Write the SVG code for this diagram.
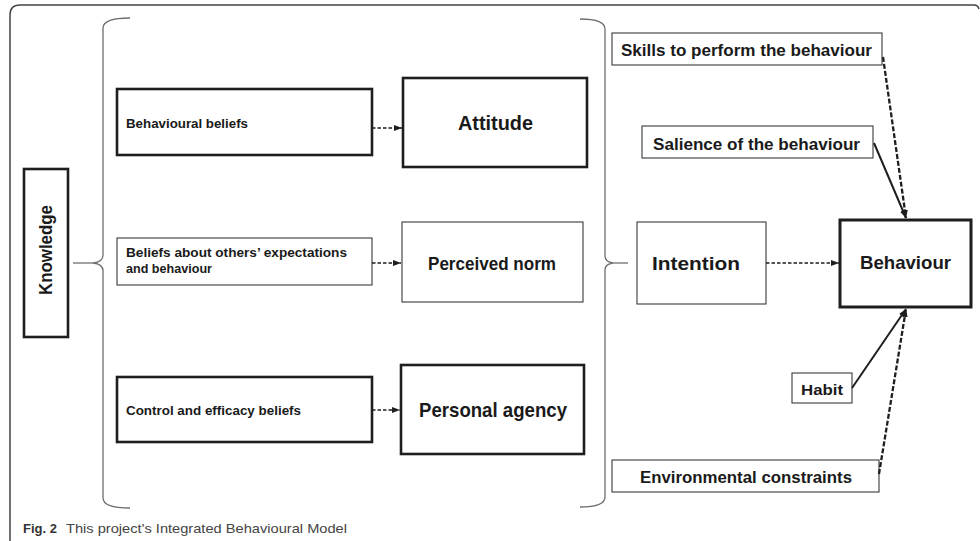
<svg xmlns="http://www.w3.org/2000/svg" width="980" height="541" viewBox="0 0 980 541">
<style>
text{font-family:"Liberation Sans",Arial,sans-serif;font-weight:bold;fill:#1a1a1a}
.thick{fill:#fff;stroke:#1e1e1e;stroke-width:2.6}
.thin{fill:#fff;stroke:#3a3a3a;stroke-width:1.1}
.brace{fill:none;stroke:#6e6e6e;stroke-width:1.3}
.dash{fill:none;stroke:#1e1e1e;stroke-width:1.6;stroke-dasharray:3.5 2}
.dash2{fill:none;stroke:#1e1e1e;stroke-width:2.3;stroke-dasharray:5 2}
.solid{fill:none;stroke:#1e1e1e;stroke-width:2}
.mid{text-anchor:middle}
</style>
<defs>
<marker id="ah" viewBox="0 0 8 6" refX="8" refY="3" markerWidth="8" markerHeight="6" markerUnits="userSpaceOnUse" orient="auto">
<path d="M0,0 L8,3 L0,6 Z" fill="#1e1e1e"/>
</marker>
</defs>
<rect width="980" height="541" fill="#fff"/>
<path d="M10,541 V15 Q10,5 20,5 H974 Q978,5 979,9" fill="none" stroke="#444" stroke-width="1.5"/>

<g id="braces">
<path class="brace" d="M130,18 Q103,18 103,28 V255 Q103,262 93,263 Q103,264 103,271 V498 Q103,508 130,508"/>
<line class="brace" x1="73" y1="263" x2="93" y2="263"/>
<path class="brace" d="M580,19 Q605,19 605,29 V256 Q605,262 613,263 Q605,264 605,270 V497 Q605,507 580,507"/>
<line class="brace" x1="613" y1="263" x2="628" y2="263"/>
</g>

<g id="knowledge">
<rect class="thick" x="24" y="169" width="44" height="168"/>
<text class="mid" transform="translate(52,250) rotate(-90)" font-size="18" textLength="90" lengthAdjust="spacingAndGlyphs">Knowledge</text>
</g>

<g id="behavioural-beliefs">
<rect class="thick" x="117" y="89" width="255" height="66"/>
<text x="126" y="128" font-size="13" textLength="122" lengthAdjust="spacingAndGlyphs">Behavioural beliefs</text>
</g>
<g id="beliefs-others">
<rect class="thin" x="117" y="238" width="255" height="47"/>
<text x="126" y="257" font-size="13" textLength="221" lengthAdjust="spacingAndGlyphs">Beliefs about others’ expectations</text>
<text x="126" y="273" font-size="13" textLength="86" lengthAdjust="spacingAndGlyphs">and behaviour</text>
</g>
<g id="control-beliefs">
<rect class="thick" x="117" y="377" width="255" height="65"/>
<text x="126" y="415" font-size="13" textLength="175" lengthAdjust="spacingAndGlyphs">Control and efficacy beliefs</text>
</g>

<g id="attitude">
<rect class="thick" x="403" y="78" width="184" height="89"/>
<text class="mid" x="495.5" y="130" font-size="20" textLength="75" lengthAdjust="spacingAndGlyphs">Attitude</text>
</g>
<g id="perceived-norm">
<rect class="thin" x="402" y="222" width="181" height="80"/>
<text class="mid" x="492" y="270" font-size="19" textLength="128" lengthAdjust="spacingAndGlyphs">Perceived norm</text>
</g>
<g id="personal-agency">
<rect class="thick" x="401" y="365" width="183" height="89"/>
<text class="mid" x="493" y="417" font-size="21" textLength="148" lengthAdjust="spacingAndGlyphs">Personal agency</text>
</g>

<g id="intention">
<rect class="thin" x="637" y="222" width="129" height="82"/>
<text class="mid" x="696" y="270" font-size="19" textLength="88" lengthAdjust="spacingAndGlyphs">Intention</text>
</g>
<g id="behaviour">
<rect x="840" y="220" width="131" height="87" fill="#fff" stroke="#1e1e1e" stroke-width="3"/>
<text class="mid" x="905.5" y="269" font-size="19" textLength="91" lengthAdjust="spacingAndGlyphs">Behaviour</text>
</g>

<g id="skills">
<rect class="thin" x="612" y="33" width="270" height="32"/>
<text x="621" y="56" font-size="16" textLength="251" lengthAdjust="spacingAndGlyphs">Skills to perform the behaviour</text>
</g>
<g id="salience">
<rect class="thin" x="642" y="126" width="231" height="32"/>
<text x="653" y="150" font-size="16" textLength="207" lengthAdjust="spacingAndGlyphs">Salience of the behaviour</text>
</g>
<g id="habit">
<rect class="thin" x="792" y="373" width="60" height="30"/>
<text x="801" y="395" font-size="15" textLength="42" lengthAdjust="spacingAndGlyphs">Habit</text>
</g>
<g id="environmental">
<rect class="thin" x="612" y="460" width="267" height="32"/>
<text x="640" y="483" font-size="16" textLength="212" lengthAdjust="spacingAndGlyphs">Environmental constraints</text>
</g>

<g id="connectors">
<line class="dash" x1="372" y1="128" x2="402" y2="128" marker-end="url(#ah)"/>
<line class="dash" x1="372" y1="263" x2="401" y2="263" marker-end="url(#ah)"/>
<line class="dash" x1="372" y1="410" x2="400" y2="410" marker-end="url(#ah)"/>
<line class="dash" x1="766" y1="263" x2="839" y2="263" marker-end="url(#ah)"/>
<line class="dash2" x1="883" y1="57" x2="906" y2="218" marker-end="url(#ah)"/>
<line class="solid" x1="874" y1="143" x2="906" y2="218" marker-end="url(#ah)"/>
<line class="solid" x1="852" y1="388" x2="906" y2="309" marker-end="url(#ah)"/>
<line class="dash2" x1="879" y1="474" x2="906" y2="309" marker-end="url(#ah)"/>
</g>

<g id="caption">
<text x="23" y="533" font-size="13" style="fill:#333">Fig. 2</text>
<text x="66" y="533" font-size="13" textLength="281" lengthAdjust="spacingAndGlyphs" style="font-weight:normal;fill:#444">This project's Integrated Behavioural Model</text>
</g>
</svg>
